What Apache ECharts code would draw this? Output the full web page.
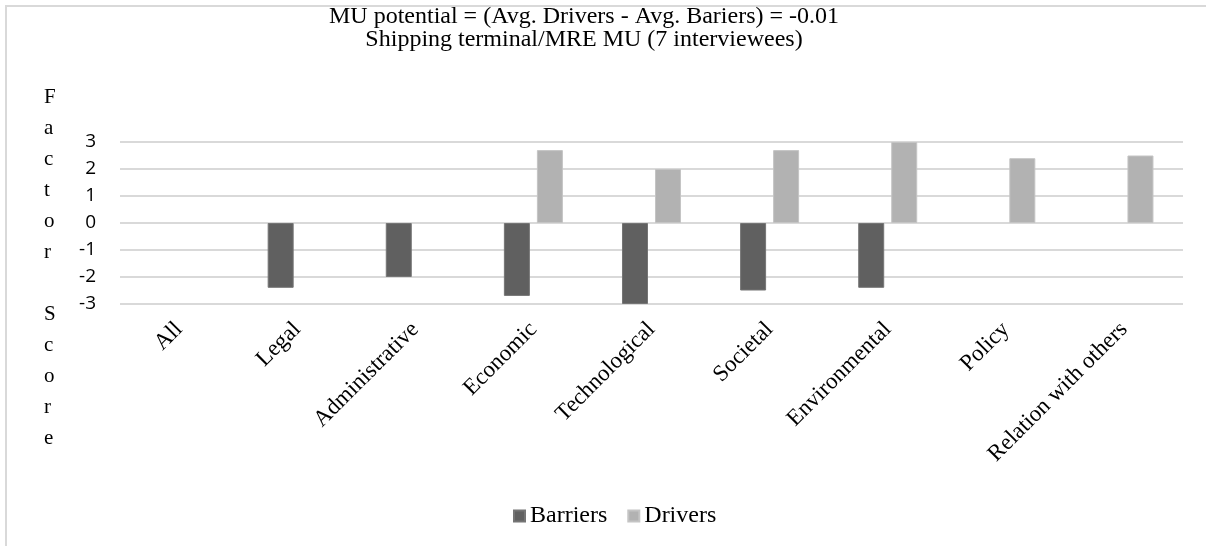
<!DOCTYPE html>
<html>
<head>
<meta charset="utf-8">
<script src="https://cdn.jsdelivr.net/npm/echarts@6/dist/echarts.min.js"></script>
<style>
  html, body { margin: 0; padding: 0; background: #fff; }
  #chart { width: 1206px; height: 546px; }
</style>
</head>
<body>
<div id="chart"></div>
<script>
// Factor scores per category for the shipping terminal / MRE multi-use case
const categories = ['All', 'Legal', 'Administrative', 'Economic', 'Technological',
  'Societal', 'Environmental', 'Policy', 'Relation with others'];
const barriers = [null, -2.4, -2.0, -2.7, -3.0, -2.5, -2.4, null, null];
const drivers = [null, null, null, 2.7, 2.0, 2.7, 3.0, 2.4, 2.5];
const titleLines = ['MU potential = (Avg. Drivers - Avg. Bariers) = -0.01',
  'Shipping terminal/MRE MU (7 interviewees)'];
const yAxisTitle = 'Factor Score';

const serif = '"Liberation Serif", "Times New Roman", serif';
const sans = '"Open Sans", "Noto Sans", sans-serif';

const chart = echarts.init(document.getElementById('chart'), null, { renderer: 'canvas' });

chart.setOption({
  backgroundColor: '#ffffff',
  animation: false,
  title: {
    text: titleLines.join('\n'),
    left: 584,
    textAlign: 'center',
    top: 5,
    padding: 0,
    textStyle: {
      fontFamily: serif, fontSize: 24, fontWeight: 'normal',
      color: '#000', lineHeight: 23
    }
  },
  graphic: [
    {
      type: 'rect',
      shape: { x: 6, y: 6, width: 1240, height: 600 },
      style: { fill: 'none', stroke: '#d9d9d9', lineWidth: 2 },
      silent: true
    },
    {
      type: 'text',
      left: 44,
      top: 82,
      style: {
        text: yAxisTitle.split('').join('\n'),
        font: '21px ' + serif,
        fill: '#000',
        lineHeight: 31,
        align: 'center'
      }
    }
  ],
  legend: {
    left: 508,
    top: 499,
    itemWidth: 11,
    itemHeight: 11,
    itemGap: 20,
    icon: 'rect',
    textStyle: { fontFamily: serif, fontSize: 24, color: '#000', padding: [0, 0, 0, 0] },
    data: ['Barriers', 'Drivers']
  },
  grid: { left: 120, right: 23, top: 142, bottom: 242, containLabel: false },
  xAxis: {
    type: 'category',
    data: categories,
    axisLine: { show: false, onZero: false },
    axisTick: { show: false },
    axisLabel: {
      rotate: 45,
      interval: 0,
      margin: 22,
      fontFamily: serif,
      fontSize: 23,
      color: '#000'
    }
  },
  yAxis: {
    type: 'value',
    min: -3,
    max: 3,
    interval: 1,
    axisLine: { show: false },
    axisTick: { show: false },
    axisLabel: { fontFamily: sans, fontSize: 19, color: '#000', margin: 24 },
    splitLine: { lineStyle: { color: '#d9d9d9', width: 2 } }
  },
  series: [
    {
      name: 'Barriers',
      type: 'bar',
      data: barriers,
      barWidth: 26,
      barGap: '27%',
      itemStyle: { color: '#606060', borderColor: '#757575', borderWidth: 1 }
    },
    {
      name: 'Drivers',
      type: 'bar',
      data: drivers,
      barWidth: 26,
      itemStyle: { color: '#b2b2b2', borderColor: '#c4c4c4', borderWidth: 1 }
    }
  ]
});
</script>
</body>
</html>
